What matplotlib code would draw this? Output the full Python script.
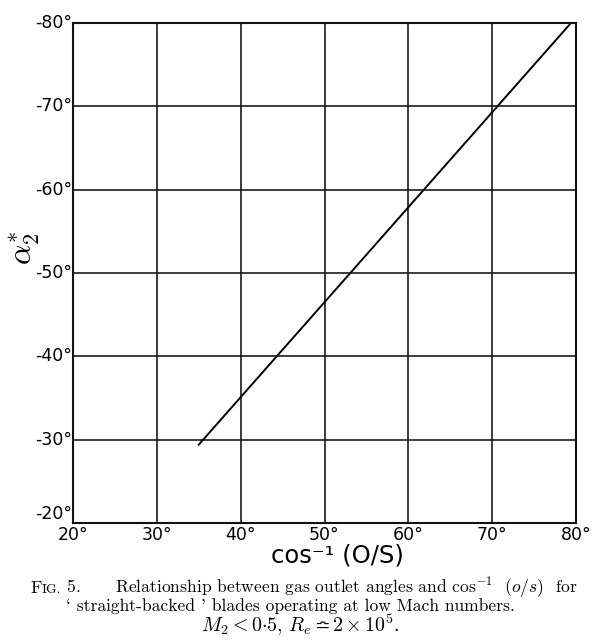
import matplotlib
matplotlib.use("Agg")
import matplotlib.pyplot as plt

# Data
x_ticks = [20, 30, 40, 50, 60, 70, 80]
y_ticks = [-20, -30, -40, -50, -60, -70, -80]
x_tick_labels = ["20°", "30°", "40°", "50°", "60°", "70°", "80°"]
y_tick_labels = ["-20°", "-30°", "-40°", "-50°", "-60°", "-70°", "-80°"]
line_x = [35.0, 79.4]
line_y = [-29.4, -80.0]

plt.rcParams['mathtext.fontset'] = 'cm'
plt.rcParams['axes.formatter.use_mathtext'] = True

W, H = 611, 641
fig = plt.figure(figsize=(W / 100, H / 100), dpi=100)
ax = fig.add_axes([73 / W, (H - 523) / H, 503 / W, 500 / H])

ax.set_xlim(20, 80)
ax.set_ylim(-20, -80)
ax.set_xticks(x_ticks)
ax.set_yticks(y_ticks)
ax.set_xticklabels([])
ax.set_yticklabels([])
ax.tick_params(length=0)
ax.grid(True, color="#1a1a1a", linewidth=1.2)
for s in ax.spines.values():
    s.set_linewidth(1.5)
    s.set_color("#111111")

ax.plot(line_x, line_y, color="black", linewidth=1.4)

# tick labels as text
xt = ax.get_xaxis_transform()
for xv, lab in zip(x_ticks, x_tick_labels):
    ax.text(xv, -0.006, lab, transform=xt, fontsize=12.5, family="DejaVu Sans",
            ha="center", va="top")
yt = ax.get_yaxis_transform()
for yv, lab in zip(y_ticks, y_tick_labels):
    if yv == y_ticks[0]:
        ax.text(-0.002, yv, lab, transform=yt, fontsize=12.5, family="DejaVu Sans",
                ha="right", va="bottom")
    else:
        ax.text(-0.002, yv, lab, transform=yt, fontsize=12.5, family="DejaVu Sans",
                ha="right", va="center")

# axis labels
fig.text(337 / W, 1 - 555 / H, "cos⁻¹ (O/S)", fontsize=17.5, family="DejaVu Sans",
         ha="center", va="center")
fig.text(25 / W, 1 - 248 / H, r"$\alpha^{*}_{2}$", fontsize=23, rotation=90,
         ha="center", va="center")

# caption
cap_fs = 12.6
renderer = fig.canvas.get_renderer()


def line_of_pieces(pieces, cx, base_y):
    arts = []
    widths = []
    for txt, fs in pieces:
        t = fig.text(0, 1 - base_y / H, txt, fontsize=fs, family="cmr10",
                     ha="left", va="baseline")
        w = t.get_window_extent(renderer).width
        arts.append(t)
        widths.append(w)
    total = sum(widths)
    x = cx - total / 2
    for t, w in zip(arts, widths):
        t.set_x(x / W)
        x += w


line_of_pieces([("F", cap_fs), ("IG.", cap_fs * 0.78),
                (r" 5.      Relationship between gas outlet angles and cos$^{-1}$  $(o/s)$  for",
                 cap_fs)], 304, 593)
line_of_pieces([("` straight-backed ' blades operating at low Mach numbers.", cap_fs)],
               290, 611)
line_of_pieces([(r"$M_2 < 0{\cdot}5$, $R_e \bumpeq 2\times10^5$.", cap_fs * 1.14)],
               300, 632)

fig.savefig("out.png", dpi=100)
